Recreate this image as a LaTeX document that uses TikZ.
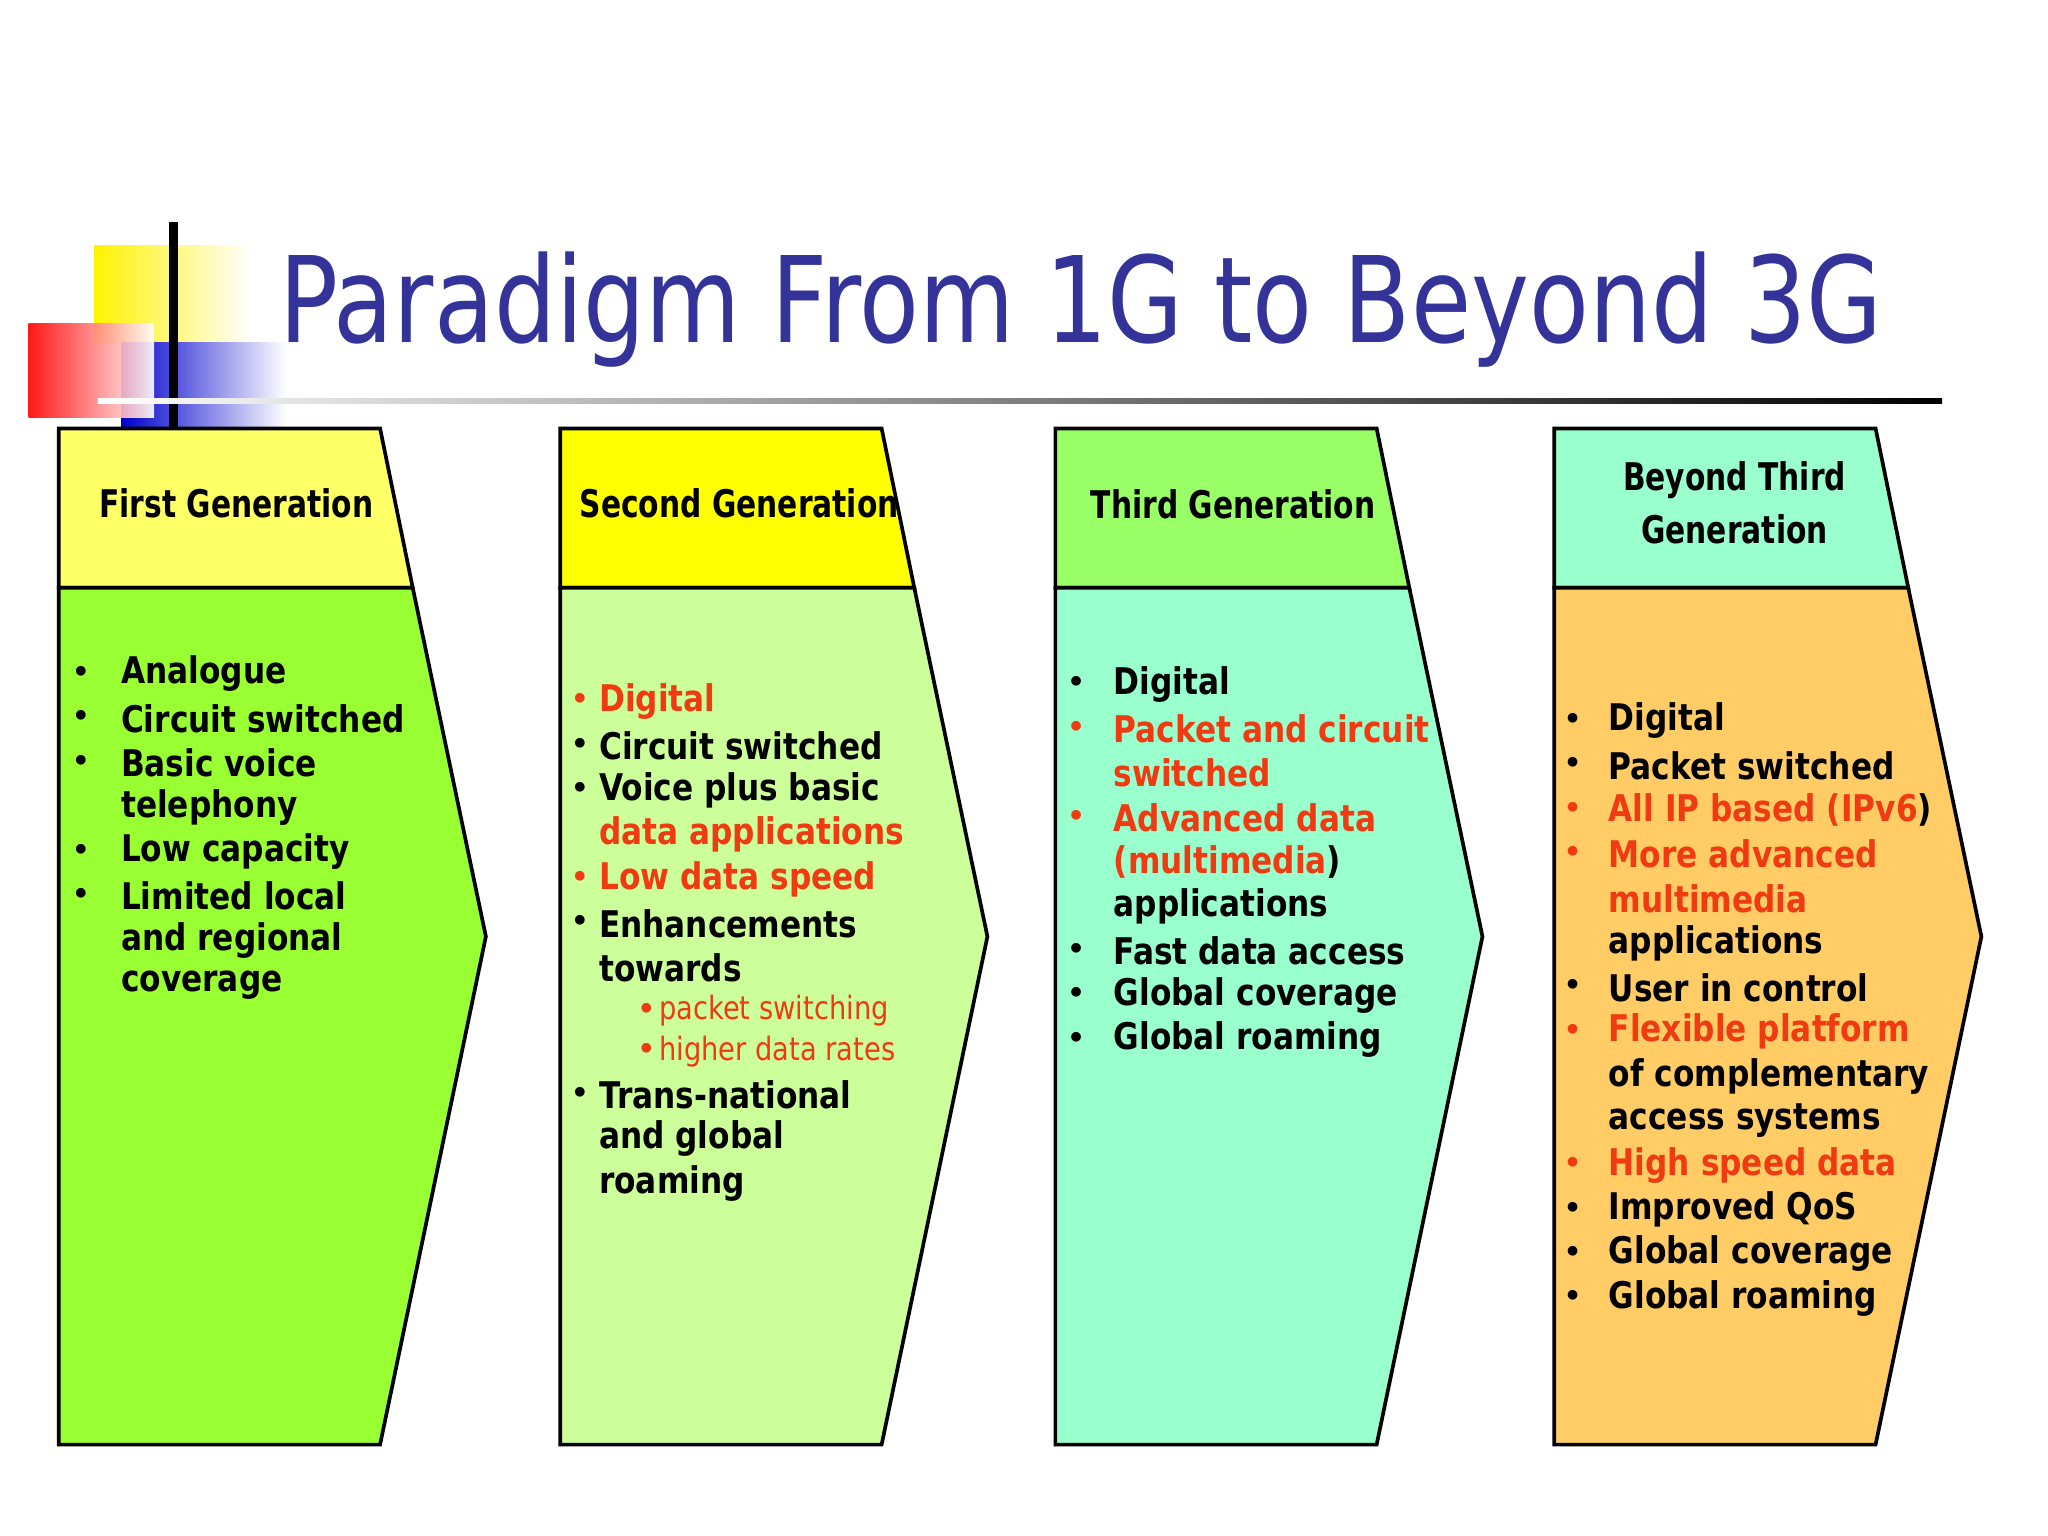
\documentclass[tikz,border=0pt]{standalone}
\usepackage{fontspec}
\setmainfont{DejaVu Sans}
\newfontfamily\titlef[FakeStretch=0.82]{DejaVu Sans}
\newfontfamily\headf[FakeStretch=0.78]{DejaVu Sans}
\newfontfamily\bodyf[FakeStretch=0.85]{DejaVu Sans}
\definecolor{tblue}{HTML}{333399}
\definecolor{rd}{HTML}{F03A12}
\definecolor{hA}{HTML}{FFFF66}\definecolor{bA}{HTML}{99FF33}
\definecolor{hB}{HTML}{FFFF00}\definecolor{bB}{HTML}{CCFF99}
\definecolor{hC}{HTML}{99FF66}\definecolor{bC}{HTML}{99FFCC}
\definecolor{hD}{HTML}{99FFCC}\definecolor{bD}{HTML}{FFCC66}
\tikzset{
 panel/.style={draw=black,line width=0.8pt},
 hd/.style={font=\headf\bfseries\fontsize{8.3}{9.5}\selectfont,align=center},
 tx/.style={anchor=west,inner sep=0,font=\bodyf\bfseries\fontsize{8}{9}\selectfont},
 sx/.style={anchor=west,inner sep=0,font=\bodyf\fontsize{7}{8}\selectfont,text=rd},
 bu/.style={anchor=center,inner sep=0,font=\bfseries\fontsize{6}{7}\selectfont},
}
\begin{document}
\begin{tikzpicture}[x=0.1mm,y=-0.1mm]
\useasboundingbox[fill=white] (0,0) rectangle (1568,1176);
% logo
\shade[left color=yellow!90!orange,right color=white] (72,188) rectangle (193,262);
\shade[left color=blue!80!black,right color=white] (93,262) rectangle (219,327);
\shade[left color=red,right color=white,opacity=0.9] (22,248) rectangle (118,320);
\draw[line width=2pt] (133,170) -- (133,327);
\shade[left color=white,right color=black] (75,305) rectangle (1487,309);
\node[anchor=base west,inner sep=0,text=tblue,font=\titlef\fontsize{26}{30}\selectfont] (title) at (213,262) {Paradigm From 1G to Beyond 3G};
% panels
\foreach \o/\h/\b [count=\i] in {0/hA/bA,384/hB/bB,763/hC/bC,1145/hD/bD}{
 \begin{scope}[xshift=\o*0.1mm]
 \filldraw[panel,fill=\h] (45,328)--(291,328)--(316,450)--(45,450)--cycle;
 \filldraw[panel,fill=\b] (45,450)--(316,450)--(372,717)--(291,1106)--(45,1106)--cycle;
 \end{scope}}
\node[hd] (h1) at (181,385) {First Generation};
\node[hd] (h2) at (566,385) {Second Generation};
\node[hd] (h3) at (944,386) {Third Generation};
\node[hd] (h4) at (1328,385) {Beyond Third\\[2pt]Generation};
% col1
\foreach \y/\t [count=\i] in {516/Analogue,550/Circuit switched,584/Basic voice,618/telephony,652/Low capacity,686/Limited local,720/and regional,754/coverage}
 \node[tx] (a\i) at (92,\y) {\t};
\foreach \y [count=\i] in {516,550,584,652,686} \node[bu] (ab\i) at (62,\y) {\textbullet};
% col2
\node[tx,text=rd] (c1) at (458,537) {Digital};
\node[tx] (c2) at (458,571) {Circuit switched};
\node[tx] (c3) at (458,605) {Voice plus basic};
\node[tx,text=rd] (c4) at (458,639) {data applications};
\node[tx,text=rd] (c5) at (458,673) {Low data speed};
\node[tx] (c6) at (458,707) {Enhancements};
\node[tx] (c7) at (458,741) {towards};
\node[sx] (c8) at (504,774) {packet switching};
\node[sx] (c9) at (504,805) {higher data rates};
\node[tx] (c10) at (458,838) {Trans-national};
\node[tx] (c11) at (458,872) {and global};
\node[tx] (c12) at (458,906) {roaming};
\foreach \y/\c [count=\i] in {537/rd,571/black,605/black,673/rd,707/black,838/black}
 \node[bu,text=\c] (cb\i) at (444,\y) {\textbullet};
\node[bu,text=rd] (cs1) at (495,774) {\textbullet};
\node[bu,text=rd] (cs2) at (495,805) {\textbullet};
% col3
\node[tx] (d1) at (852,524) {Digital};
\node[tx,text=rd] (d2) at (852,558) {Packet and circuit};
\node[tx,text=rd] (d3) at (852,592) {switched};
\node[tx,text=rd] (d4) at (852,626) {Advanced data};
\node[tx] (d5) at (852,660) {\textcolor{rd}{(multimedia})};
\node[tx] (d6) at (852,694) {applications};
\node[tx] (d7) at (852,728) {Fast data access};
\node[tx] (d8) at (852,762) {Global coverage};
\node[tx] (d9) at (852,796) {Global roaming};
\foreach \y/\c [count=\i] in {524/black,558/rd,626/rd,728/black,762/black,796/black}
 \node[bu,text=\c] (db\i) at (824,\y) {\textbullet};
% col4
\node[tx] (e1) at (1231,552) {Digital};
\node[tx] (e2) at (1231,586) {Packet switched};
\node[tx] (e3) at (1231,620) {\textcolor{rd}{All IP based (IPv6})};
\node[tx,text=rd] (e4) at (1231,654) {More advanced};
\node[tx,text=rd] (e5) at (1231,688) {multimedia};
\node[tx] (e6) at (1231,722) {applications};
\node[tx] (e7) at (1231,756) {User in control};
\node[tx,text=rd] (e8) at (1231,790) {Flexible platform};
\node[tx] (e9) at (1231,824) {of complementary};
\node[tx] (e10) at (1231,858) {access systems};
\node[tx,text=rd] (e11) at (1231,892) {High speed data};
\node[tx] (e12) at (1231,926) {Improved QoS};
\node[tx] (e13) at (1231,960) {Global coverage};
\node[tx] (e14) at (1231,994) {Global roaming};
\foreach \y/\c [count=\i] in {552/black,586/black,620/rd,654/rd,756/black,790/rd,892/rd,926/black,960/black,994/black}
 \node[bu,text=\c] (eb\i) at (1204,\y) {\textbullet};
\end{tikzpicture}
\end{document}
